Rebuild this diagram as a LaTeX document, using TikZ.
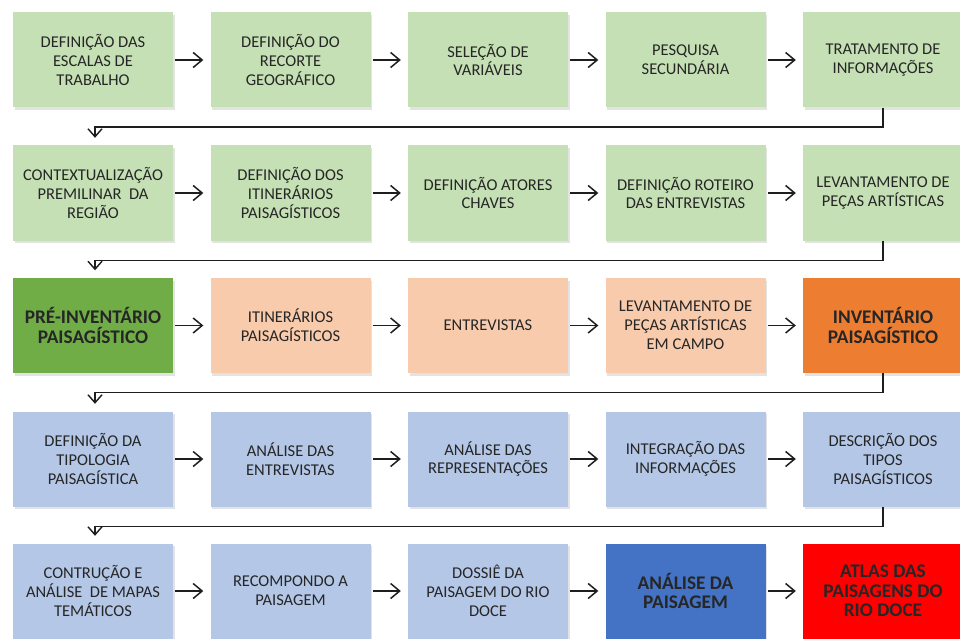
\documentclass[tikz,border=0pt]{standalone}
\usepackage{fontspec}
\setmainfont{Carlito}
\usetikzlibrary{arrows.meta,shadows,calc}
\definecolor{lgreen}{HTML}{C5E0B4}
\definecolor{dgreen}{HTML}{70AD47}
\definecolor{peach}{HTML}{F8CBAD}
\definecolor{orng}{HTML}{ED7D31}
\definecolor{lblue}{HTML}{B4C7E7}
\definecolor{dblue}{HTML}{4472C4}
\definecolor{rred}{HTML}{FF0000}
\definecolor{txt}{HTML}{262626}
\definecolor{lin}{HTML}{1E1E1E}
\begin{document}
\begin{tikzpicture}[x=1pt,y=-1pt,
  box/.style={minimum width=160pt, minimum height=95pt, inner sep=0pt, align=center,
    font=\fontsize{16.5}{18.8}\selectfont, text=txt,
    drop shadow={opacity=0.22, shadow xshift=1.5pt, shadow yshift=-2.5pt}},
  bbox/.style={box, font=\fontsize{19.3}{19.5}\selectfont\bfseries},
  harrow/.style={draw=lin, line width=1.5pt, shorten <=2pt, shorten >=7pt,
    -{Straight Barb[length=9pt,width=15pt,line width=1.5pt]}},
  varrow/.style={draw=lin, line width=1.4pt,
    -{Straight Barb[length=8pt,width=14pt,line width=1.4pt]}}]
\path[use as bounding box] (0,0) rectangle (960,639);
\clip (0,0) rectangle (960,639);
\fill[white] (0,0) rectangle (960,639);

% row 1
\node[box, fill=lgreen] (a1) at (93,60) {DEFINIÇÃO DAS\\ESCALAS DE\\TRABALHO};
\node[box, fill=lgreen] (a2) at (290.5,60) {DEFINIÇÃO DO\\RECORTE\\GEOGRÁFICO};
\node[box, fill=lgreen] (a3) at (488,60) {SELEÇÃO DE\\VARIÁVEIS};
\node[box, fill=lgreen] (a4) at (685.5,60) {PESQUISA\\SECUNDÁRIA};
\node[box, fill=lgreen] (a5) at (883,60) {TRATAMENTO DE\\INFORMAÇÕES};
% row 2
\node[box, fill=lgreen] (b1) at (93,193) {CONTEXTUALIZAÇÃO\\PREMILINAR\ \ DA\\REGIÃO};
\node[box, fill=lgreen] (b2) at (290.5,193) {DEFINIÇÃO DOS\\ITINERÁRIOS\\PAISAGÍSTICOS};
\node[box, fill=lgreen] (b3) at (488,193) {DEFINIÇÃO ATORES\\CHAVES};
\node[box, fill=lgreen] (b4) at (685.5,193) {DEFINIÇÃO ROTEIRO\\DAS ENTREVISTAS};
\node[box, fill=lgreen] (b5) at (883,193) {LEVANTAMENTO DE\\PEÇAS ARTÍSTICAS};
% row 3
\node[bbox, fill=dgreen] (c1) at (93,325.5) {PRÉ-INVENTÁRIO\\PAISAGÍSTICO};
\node[box, fill=peach] (c2) at (290.5,325.5) {ITINERÁRIOS\\PAISAGÍSTICOS};
\node[box, fill=peach] (c3) at (488,325.5) {ENTREVISTAS};
\node[box, fill=peach] (c4) at (685.5,325.5) {LEVANTAMENTO DE\\PEÇAS ARTÍSTICAS\\EM CAMPO};
\node[bbox, fill=orng] (c5) at (883,325.5) {INVENTÁRIO\\PAISAGÍSTICO};
% row 4
\node[box, fill=lblue] (d1) at (93,459) {DEFINIÇÃO DA\\TIPOLOGIA\\PAISAGÍSTICA};
\node[box, fill=lblue] (d2) at (290.5,459) {ANÁLISE DAS\\ENTREVISTAS};
\node[box, fill=lblue] (d3) at (488,459) {ANÁLISE DAS\\REPRESENTAÇÕES};
\node[box, fill=lblue] (d4) at (685.5,459) {INTEGRAÇÃO DAS\\INFORMAÇÕES};
\node[box, fill=lblue] (d5) at (883,459) {DESCRIÇÃO DOS\\TIPOS\\PAISAGÍSTICOS};
% row 5
\node[box, fill=lblue] (e1) at (93,591) {CONTRUÇÃO E\\ANÁLISE\ \ DE MAPAS\\TEMÁTICOS};
\node[box, fill=lblue] (e2) at (290.5,591) {RECOMPONDO A\\PAISAGEM};
\node[box, fill=lblue] (e3) at (488,591) {DOSSIÊ DA\\PAISAGEM DO RIO\\DOCE};
\node[bbox, fill=dblue] (e4) at (685.5,591) {ANÁLISE DA\\PAISAGEM};
\node[bbox, fill=rred] (e5) at (883,591) {ATLAS DAS\\PAISAGENS DO\\RIO DOCE};

% horizontal arrows
\foreach \r in {a,b,c,d,e}{
  \draw[harrow] (\r1.east) -- (\r2.west);
  \draw[harrow] (\r2.east) -- (\r3.west);
  \draw[harrow] (\r3.east) -- (\r4.west);
  \draw[harrow] (\r4.east) -- (\r5.west);
}
% row connectors
\draw[varrow] (a5.south) -- ++(0,19.5) -| ($(b1.north)+(2,-7.5)$);
\draw[varrow] (b5.south) -- ++(0,19.5) -| ($(c1.north)+(2,-7.5)$);
\draw[varrow] (c5.south) -- ++(0,19.5) -| ($(d1.north)+(2,-7.5)$);
\draw[varrow] (d5.south) -- ++(0,19.5) -| ($(e1.north)+(2,-7.5)$);
\end{tikzpicture}
\end{document}
